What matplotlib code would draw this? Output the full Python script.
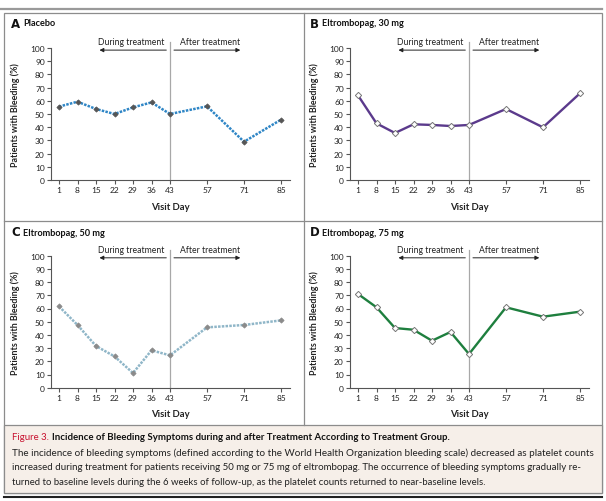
import matplotlib
matplotlib.use('Agg')
import matplotlib.pyplot as plt
from matplotlib.patches import Rectangle

# ---------------- data ----------------
days = [1, 8, 15, 22, 29, 36, 43, 57, 71, 85]
tick_labels = [str(d) for d in days]
y_ticks = list(range(0, 101, 10))
placebo = [55.6, 59.3, 53.8, 50.0, 55.0, 58.8, 50.0, 55.8, 29.0, 45.7]
eltro30 = [64.1, 42.9, 35.6, 42.2, 41.7, 40.9, 41.7, 53.8, 39.9, 65.7]
eltro50 = [61.6, 47.5, 31.6, 23.7, 11.1, 28.3, 24.5, 45.7, 47.5, 51.0]
eltro75 = [71.0, 60.9, 45.2, 43.9, 35.6, 42.2, 25.5, 60.9, 53.8, 57.6]
panel_letters = ['A', 'B', 'C', 'D']
panel_titles = ['Placebo', 'Eltrombopag, 30 mg', 'Eltrombopag, 50 mg', 'Eltrombopag, 75 mg']
series = [placebo, eltro30, eltro50, eltro75]
treatment_end = 43
caption_head = 'Figure 3.'
caption_title = 'Incidence of Bleeding Symptoms during and after Treatment According to Treatment Group.'
caption_lines = [
    'The incidence of bleeding symptoms (defined according to the World Health Organization bleeding scale) decreased as platelet counts',
    'increased during treatment for patients receiving 50 mg or 75 mg of eltrombopag. The occurrence of bleeding symptoms gradually re-',
    'turned to baseline levels during the 6 weeks of follow-up, as the platelet counts returned to near-baseline levels.',
]

# ---------------- styles ----------------
styles = [
    dict(color='#2f86c6', ls=(0, (1, 0.5)), lw=1.8, marker='D', ms=2.7, mfc='#555555', mec='#555555', mew=0.5),
    dict(color='#5b3a8c', ls='-', lw=1.7, marker='D', ms=3.2, mfc='white', mec='#777777', mew=0.7),
    dict(color='#8fb6c8', ls=(0, (1, 0.5)), lw=1.8, marker='D', ms=2.7, mfc='#8a8a8a', mec='#8a8a8a', mew=0.5),
    dict(color='#1e7f3e', ls='-', lw=1.7, marker='D', ms=3.2, mfc='white', mec='#777777', mew=0.7),
]

plt.rcParams['font.family'] = ['Lato', 'DejaVu Sans']
W, H = 606, 502
fig = plt.figure(figsize=(W / 100, H / 100), dpi=100)

# background / frame axes in pixel coords
bg = fig.add_axes([0, 0, 1, 1], zorder=0)
bg.set_xlim(0, W)
bg.set_ylim(H, 0)
bg.axis('off')
fc = '#8c8c8c'
bg.plot([0, 602], [10, 10], color='#9a9a9a', lw=1.6)
bg.add_patch(Rectangle((4, 13.5), 598, 480, fill=False, ec=fc, lw=0.9))
bg.plot([303.5, 303.5], [13.5, 426], color=fc, lw=0.9)
bg.plot([4, 602], [222, 222], color=fc, lw=0.9)
bg.add_patch(Rectangle((4, 426), 598, 67.5, fc='#f6efe9', ec=fc, lw=0.9))
bg.plot([4, 602], [498, 498], color='#222222', lw=1.5)

def px(x):
    return x / W

def py(y):
    return 1 - y / H

xmin, xmax = -2.0, 88.5
ppd = 2.643  # pixels per day
ax_w = (xmax - xmin) * ppd
lefts = [59 - (1 - xmin) * ppd, 358 - (1 - xmin) * ppd]
rows = [(49, 181), (256.7, 388.7)]
title_y = [24, 233]
letter_x = [11, 310]
title_x = [23, 322]

for i in range(4):
    r, c = divmod(i, 2)
    top, bot = rows[r]
    ax = fig.add_axes([px(lefts[c]), py(bot), ax_w / W, (bot - top) / H], zorder=1)
    ax.set_facecolor('none')
    ax.plot(days, series[i], **styles[i], zorder=3, clip_on=False)
    ax.set_xlim(xmin, xmax)
    ax.set_ylim(0, 100)
    for s in ['top', 'right']:
        ax.spines[s].set_visible(False)
    for s in ['left', 'bottom']:
        ax.spines[s].set_color('#555555')
        ax.spines[s].set_linewidth(0.8)
    ax.set_xticks(days, tick_labels)
    ax.set_yticks(y_ticks)
    ax.tick_params(length=3, width=0.8, color='#555555', labelsize=6, pad=1.5, labelcolor='#222222')
    ax.set_xlabel('Visit Day', fontsize=6.8, fontweight='bold', color='#222222')
    ax.xaxis.set_label_coords(0.5, -0.165)
    ax.set_ylabel('Patients with Bleeding (%)', fontsize=6.4, fontweight='bold', color='#222222')
    ax.yaxis.set_label_coords(-0.13, 0.5)
    # treatment divider
    ax.plot([treatment_end, treatment_end], [0, 104.3], color='#a8a8a8', lw=0.9, clip_on=False, zorder=2)
    ax.text(41.0, 105, 'During treatment', ha='right', va='center', fontsize=6.2, color='#222222', clip_on=False)
    ax.text(46.7, 105, 'After treatment', ha='left', va='center', fontsize=6.2, color='#222222', clip_on=False)
    ax.annotate('', xy=(16.3, 98.4), xytext=(41.6, 98.4), annotation_clip=False,
                arrowprops=dict(arrowstyle='-|>', color='#222222', lw=0.7, mutation_scale=6, shrinkA=0, shrinkB=0))
    ax.annotate('', xy=(69.6, 98.4), xytext=(44.5, 98.4), annotation_clip=False,
                arrowprops=dict(arrowstyle='-|>', color='#222222', lw=0.7, mutation_scale=6, shrinkA=0, shrinkB=0))
    fig.text(px(letter_x[c]), py(title_y[r]), panel_letters[i], fontsize=8.5, fontweight='bold',
             family=['DejaVu Sans'], va='center', ha='left', color='#111111')
    fig.text(px(title_x[c]), py(title_y[r]), panel_titles[i], fontsize=6.6, fontweight='bold',
             va='center', ha='left', color='#111111')

# caption
renderer = fig.canvas.get_renderer()

def width_px(t):
    return t.get_window_extent(renderer).width

def fit(t, target):
    t.set_fontsize(t.get_fontsize() * target / width_px(t))

head = fig.text(px(12), py(437.5), caption_head, fontsize=7, color='#c8102e', va='center', ha='left')
t1 = fig.text(px(12), py(437.5), caption_title, fontsize=7, fontweight='bold', color='#111111',
              va='center', ha='left')
for _ in range(3):
    gap = 0.45 * head.get_fontsize()
    total = width_px(head) + gap + width_px(t1)
    f = head.get_fontsize() * (445 - 12) / total
    head.set_fontsize(f)
    t1.set_fontsize(f)
t1.set_x(px(12 + width_px(head) + 0.45 * head.get_fontsize()))

line_y = [453, 468, 483]
line_end = [593, 581, 486]
for s, y, e in zip(caption_lines, line_y, line_end):
    t = fig.text(px(12), py(y), s, fontsize=7, color='#222222', va='center', ha='left')
    fit(t, e - 12)

fig.savefig('out.png', dpi=100)
